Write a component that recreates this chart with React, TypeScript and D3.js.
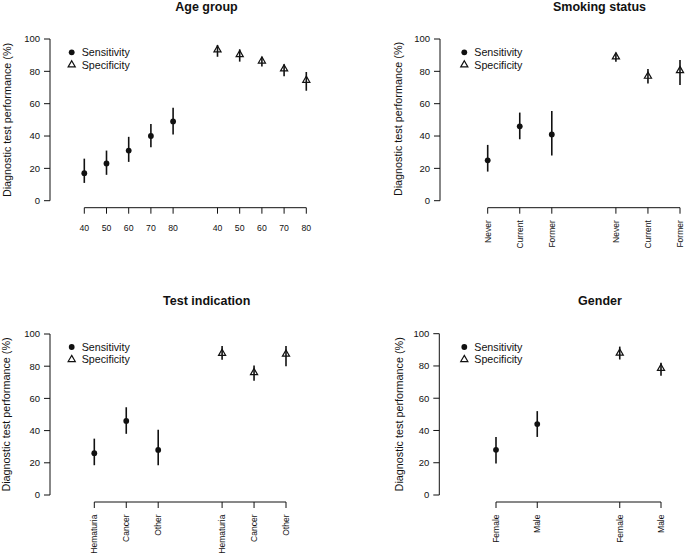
import React from "react";
import * as d3 from "d3";

// ---------- Data ----------
const ageLabels = ["40", "50", "60", "70", "80"];
const ageSens = [17, 23, 31, 40, 49];
const ageSensLo = [11, 16, 24, 33, 41];
const ageSensHi = [26, 31, 39.5, 47.5, 57.5];
const ageSpec = [93.3, 90.4, 86.4, 81.5, 74.5];
const ageSpecLo = [89, 86, 83, 77, 68];
const ageSpecHi = [96.3, 93.6, 89, 84.4, 79.6];

const smokeLabels = ["Never", "Current", "Former"];
const smokeSens = [25, 46, 41];
const smokeSensLo = [18, 38, 28];
const smokeSensHi = [34.5, 54.5, 55.5];
const smokeSpec = [89, 77, 80.5];
const smokeSpecLo = [86, 72.5, 71.5];
const smokeSpecHi = [91.5, 81.5, 87];

const indLabels = ["Hematuria", "Cancer", "Other"];
const indSens = [26, 46, 28];
const indSensLo = [18.5, 38, 18.5];
const indSensHi = [35, 54.5, 40.5];
const indSpec = [88, 76, 87.5];
const indSpecLo = [84, 71, 80];
const indSpecHi = [92.5, 80.5, 92.5];

const genderLabels = ["Female", "Male"];
const genderSens = [28, 44];
const genderSensLo = [19.5, 36];
const genderSensHi = [36, 52];
const genderSpec = [88, 78.5];
const genderSpecLo = [84, 74];
const genderSpecHi = [92, 82];

const yTicks = [0, 20, 40, 60, 80, 100];
const yTitle = "Diagnostic test performance (%)";
const legendLabels = ["Sensitivity", "Specificity"];

// ---------- Layout ----------
const panels = [
  {
    title: "Age group", labels: ageLabels,
    sens: ageSens, sensLo: ageSensLo, sensHi: ageSensHi,
    spec: ageSpec, specLo: ageSpecLo, specHi: ageSpecHi,
    layout: { yAxisX: 50, yTop: 39, yBottom: 200.7, xAxisY: 207.7, xFirst: 84.3, xLast: 306.3,
      titleX: 206.5, titleY: 10.5, yTitleX: 7, yTitleY: 120, legendX: 71.7, legendY: 52.3, rotate: false },
  },
  {
    title: "Smoking status", labels: smokeLabels,
    sens: smokeSens, sensLo: smokeSensLo, sensHi: smokeSensHi,
    spec: smokeSpec, specLo: smokeSpecLo, specHi: smokeSpecHi,
    layout: { yAxisX: 440, yTop: 39, yBottom: 200.7, xAxisY: 207.7, xFirst: 487.7, xLast: 680,
      titleX: 599.5, titleY: 10.5, yTitleX: 398.3, yTitleY: 119, legendX: 464.3, legendY: 52.3, rotate: true },
  },
  {
    title: "Test indication", labels: indLabels,
    sens: indSens, sensLo: indSensLo, sensHi: indSensHi,
    spec: indSpec, specLo: indSpecLo, specHi: indSpecHi,
    layout: { yAxisX: 50, yTop: 334, yBottom: 495, xAxisY: 502, xFirst: 94.3, xLast: 286,
      titleX: 206.7, titleY: 304.7, yTitleX: 6.5, yTitleY: 414.5, legendX: 71.7, legendY: 347, rotate: true },
  },
  {
    title: "Gender", labels: genderLabels,
    sens: genderSens, sensLo: genderSensLo, sensHi: genderSensHi,
    spec: genderSpec, specLo: genderSpecLo, specHi: genderSpecHi,
    layout: { yAxisX: 439.3, yTop: 333.7, yBottom: 495, xAxisY: 502, xFirst: 496, xLast: 661,
      titleX: 600, titleY: 304.7, yTitleX: 399.3, yTitleY: 414.3, legendX: 464.3, legendY: 347, rotate: true },
  },
];

const FONT = "'Liberation Sans', Arial, Helvetica, sans-serif";
const INK = "#111";
const triPath = d3.symbol().type(d3.symbolTriangle).size(22)() as string;

function Panel({ p }: { p: (typeof panels)[number] }) {
  const L = p.layout;
  const n = p.labels.length;
  const y = d3.scaleLinear().domain([0, 100]).range([L.yBottom, L.yTop]);
  const x = d3.scaleLinear().domain([1, 2 * n + 1]).range([L.xFirst, L.xLast]);
  const sensPos = p.labels.map((_, i) => i + 1);
  const specPos = p.labels.map((_, i) => n + 2 + i);
  const allPos = [...sensPos, ...specPos];
  const allLabels = [...p.labels, ...p.labels];

  return (
    <g fontFamily={FONT} fill={INK}>
      <text x={L.titleX} y={L.titleY} textAnchor="middle" fontWeight="bold" fontSize={12.5}>
        {p.title}
      </text>
      {/* y axis */}
      <line x1={L.yAxisX} x2={L.yAxisX} y1={y(0)} y2={y(100)} stroke={INK} strokeWidth={1} />
      {yTicks.map((t) => (
        <g key={t}>
          <line x1={L.yAxisX - 6} x2={L.yAxisX} y1={y(t)} y2={y(t)} stroke={INK} strokeWidth={1} />
          <text x={L.yAxisX - 10} y={y(t)} dy="0.35em" textAnchor="end" fontSize={9.5}>{t}</text>
        </g>
      ))}
      <text transform={`translate(${L.yTitleX},${L.yTitleY}) rotate(-90)`} textAnchor="middle" dy="0.35em" fontSize={10.8}>
        {yTitle}
      </text>
      {/* x axis */}
      <line x1={x(1)} x2={x(2 * n + 1)} y1={L.xAxisY} y2={L.xAxisY} stroke={INK} strokeWidth={1} />
      {allPos.map((pos, i) => (
        <g key={i}>
          <line x1={x(pos)} x2={x(pos)} y1={L.xAxisY} y2={L.xAxisY + 6} stroke={INK} strokeWidth={1} />
          {L.rotate ? (
            <text transform={`translate(${x(pos)},${L.xAxisY + 12.5}) rotate(-90)`} textAnchor="end" dy="0.35em" fontSize={8.5}>
              {allLabels[i]}
            </text>
          ) : (
            <text x={x(pos)} y={L.xAxisY + 23.5} textAnchor="middle" fontSize={8.7}>{allLabels[i]}</text>
          )}
        </g>
      ))}
      {/* sensitivity */}
      {sensPos.map((pos, i) => (
        <g key={"s" + i}>
          <line x1={x(pos)} x2={x(pos)} y1={y(p.sensLo[i])} y2={y(p.sensHi[i])} stroke={INK} strokeWidth={1.6} />
          <circle cx={x(pos)} cy={y(p.sens[i])} r={2.9} fill={INK} />
        </g>
      ))}
      {/* specificity */}
      {specPos.map((pos, i) => (
        <g key={"p" + i}>
          <line x1={x(pos)} x2={x(pos)} y1={y(p.specLo[i])} y2={y(p.specHi[i])} stroke={INK} strokeWidth={1.6} />
          <path d={triPath} transform={`translate(${x(pos)},${y(p.spec[i])})`} fill="none" stroke={INK} strokeWidth={1.2} />
        </g>
      ))}
      {/* legend */}
      <circle cx={L.legendX} cy={L.legendY} r={2.9} fill={INK} />
      <text x={L.legendX + 10} y={L.legendY} dy="0.35em" fontSize={10.7}>{legendLabels[0]}</text>
      <path d={triPath} transform={`translate(${L.legendX},${L.legendY + 12.5})`} fill="none" stroke={INK} strokeWidth={1.2} />
      <text x={L.legendX + 10} y={L.legendY + 12.5} dy="0.35em" fontSize={10.7}>{legendLabels[1]}</text>
    </g>
  );
}

export default function App() {
  return (
    <svg width={685} height={556} style={{ position: "absolute", left: 0, top: 0, background: "#fff" }}>
      <rect width={685} height={556} fill="#fff" />
      {panels.map((p) => (
        <Panel key={p.title} p={p} />
      ))}
    </svg>
  );
}
